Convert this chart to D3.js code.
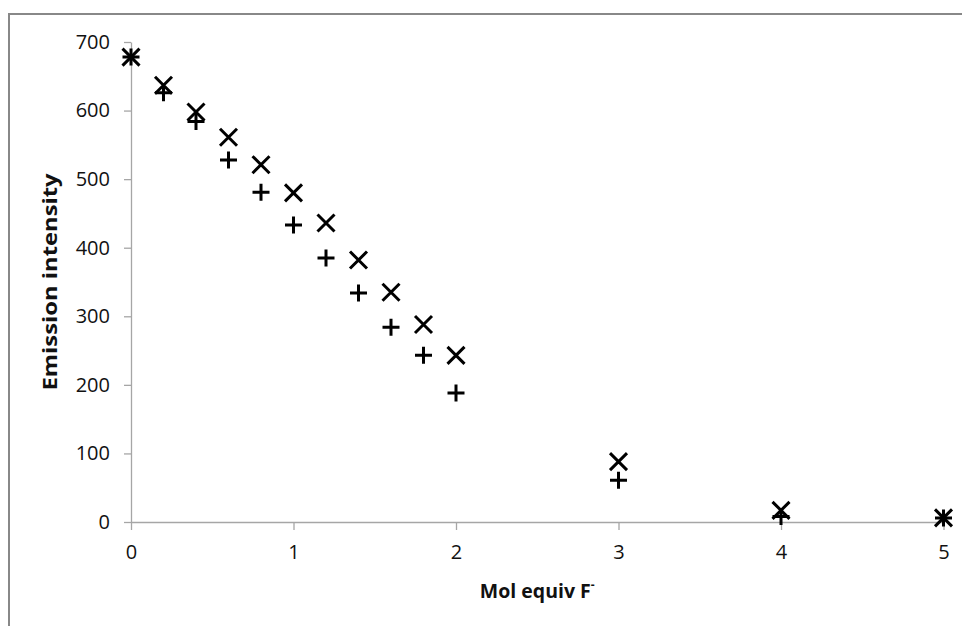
<!DOCTYPE html>
<html>
<head>
<meta charset="utf-8">
<script src="https://cdn.jsdelivr.net/npm/d3@7.9.0/dist/d3.min.js"></script>
<style>
  html, body { margin: 0; padding: 0; background: #fff; }
  svg { display: block; }
  .axis path, .axis line { stroke: #a6a6a6; stroke-width: 1.3; }
  .axis text { fill: #111; }
  .title { font-weight: bold; font-size: 19.5px; fill: #111; font-family: "Open Sans", "Noto Sans", sans-serif; }
</style>
</head>
<body>
<svg id="chart" width="962" height="626"></svg>
<script>
// mol equivalents of fluoride added
const molEquiv = [0, 0.2, 0.4, 0.6, 0.8, 1.0, 1.2, 1.4, 1.6, 1.8, 2.0, 3, 4, 5];
// two emission series (cross marker and plus marker)
const seriesX = [678, 637, 598, 561, 521, 480, 436, 382, 335, 288, 243, 88, 17, 6];
const seriesPlus = [678, 626, 584, 528, 481, 433, 385, 334, 284, 243, 188, 61, 8, 6];
const xTicks = [0, 1, 2, 3, 4, 5];
const yTicks = [0, 100, 200, 300, 400, 500, 600, 700];

const svg = d3.select('#chart');

// outer border (only top and left visible in the crop)
svg.append('path')
  .attr('d', 'M9,626 L9,14 L962,14')
  .attr('fill', 'none')
  .attr('stroke', '#888')
  .attr('stroke-width', 2);

const x = d3.scaleLinear().domain([0, 5]).range([131, 943.5]);
const y = d3.scaleLinear().domain([0, 700]).range([522, 42]);

const styleAxis = g => g
  .attr('font-family', '"Open Sans", "Noto Sans", sans-serif')
  .attr('font-size', 20);

svg.append('g')
  .attr('class', 'axis')
  .attr('transform', `translate(${x(0)},0)`)
  .call(d3.axisLeft(y).tickValues(yTicks).tickSize(7).tickSizeOuter(0).tickPadding(14))
  .call(styleAxis);

svg.append('g')
  .attr('class', 'axis')
  .attr('transform', `translate(0,${y(0)})`)
  .call(d3.axisBottom(x).tickValues(xTicks).tickFormat(d3.format('d'))
    .tickSize(8).tickSizeOuter(0).tickPadding(15))
  .call(styleAxis);

const crossPath = r => `M${-r},${-r}L${r},${r}M${-r},${r}L${r},${-r}`;
const plusPath = r => `M${-r},0L${r},0M0,${-r}L0,${r}`;

const pointsX = molEquiv.map((m, i) => ({ m, v: seriesX[i] }));
const pointsPlus = molEquiv.map((m, i) => ({ m, v: seriesPlus[i] }));

svg.append('g').selectAll('path')
  .data(pointsX)
  .join('path')
  .attr('transform', d => `translate(${x(d.m)},${y(d.v)})`)
  .attr('d', crossPath(8.5))
  .attr('fill', 'none')
  .attr('stroke', '#000')
  .attr('stroke-width', 3);

svg.append('g').selectAll('path')
  .data(pointsPlus)
  .join('path')
  .attr('transform', d => `translate(${x(d.m)},${y(d.v)})`)
  .attr('d', plusPath(8.5))
  .attr('fill', 'none')
  .attr('stroke', '#000')
  .attr('stroke-width', 3);

// axis titles, centred on the plot area
const yMid = (y(0) + y(700)) / 2;
svg.append('text')
  .attr('class', 'title')
  .attr('text-anchor', 'middle')
  .attr('transform', `translate(57,${yMid}) rotate(-90) scale(1.22,1)`)
  .text('Emission intensity');

const xt = svg.append('text')
  .attr('class', 'title')
  .attr('text-anchor', 'middle')
  .attr('x', (x(0) + x(5)) / 2)
  .attr('y', 598);
xt.append('tspan').text('Mol equiv F');
xt.append('tspan').attr('dy', -9).attr('font-size', 12).text('-');
</script>
</body>
</html>
